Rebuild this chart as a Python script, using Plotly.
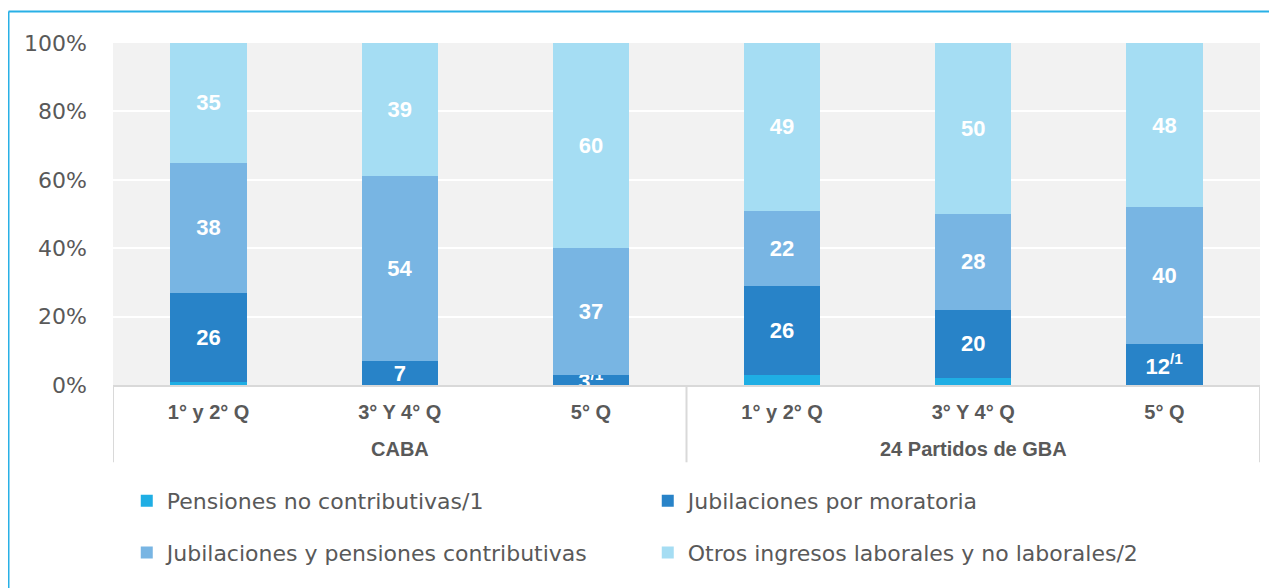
import plotly.graph_objects as go

regions = ["CABA", "24 Partidos de GBA"]
quintiles = ["1° y 2° Q", "3° Y 4° Q", "5° Q", "1° y 2° Q", "3° Y 4° Q", "5° Q"]
positions = [0, 1, 2, 3, 4, 5]
region_centers = [1, 4]
region_dividers = [-0.5, 2.5, 5.5]

pensiones_nc = [1, 0, 0, 3, 2, 0]
moratoria = [26, 7, 3, 26, 20, 12]
contributivas = [38, 54, 37, 22, 28, 40]
otros = [35, 39, 60, 49, 50, 48]

moratoria_labels = ["26", "7", "3<sup>/1</sup>", "26", "20", "12<sup>/1</sup>"]
contributivas_labels = [str(v) for v in contributivas]
otros_labels = [str(v) for v in otros]

y_ticks = [0, 20, 40, 60, 80, 100]
y_ticktext = [f"{v}%" for v in y_ticks]

series_names = [
    "Pensiones no contributivas/1",
    "Jubilaciones por moratoria",
    "Jubilaciones y pensiones contributivas",
    "Otros ingresos laborales y no laborales/2",
]
colors = ["#1FAEE4", "#2883C8", "#78B5E3", "#A5DDF3"]

fig = go.Figure()

bar_font = dict(family="Liberation Sans, Arial", size=22, color="white")
txt = dict(textposition="inside", insidetextanchor="middle", constraintext="none",
           textangle=0, textfont=bar_font, texttemplate="<b>%{text}</b>")

fig.add_trace(go.Bar(x=positions, y=pensiones_nc, name=series_names[0], marker_color=colors[0],
                     marker_line_width=0, legend="legend"))
fig.add_trace(go.Bar(x=positions, y=moratoria, name=series_names[1], marker_color=colors[1],
                     marker_line_width=0, text=moratoria_labels, legend="legend", **txt))
fig.add_trace(go.Bar(x=positions, y=contributivas, name=series_names[2], marker_color=colors[2],
                     marker_line_width=0, text=contributivas_labels, legend="legend2", **txt))
fig.add_trace(go.Bar(x=positions, y=otros, name=series_names[3], marker_color=colors[3],
                     marker_line_width=0, text=otros_labels, legend="legend2", **txt))

legend_common = dict(
    orientation="h", xanchor="left", yanchor="middle",
    font=dict(family="DejaVu Sans", size=22, color="#595959"),
    entrywidth=476, entrywidthmode="pixels", itemwidth=30,
    bgcolor="rgba(0,0,0,0)", traceorder="normal",
)

grey = "#D9D9D9"
shapes = [
    dict(type="line", xref="paper", yref="paper", x0=-0.0911, x1=1.03,
         y0=1.0921, y1=1.0921, line=dict(color="#29B0E6", width=2)),
    dict(type="line", xref="paper", yref="paper", x0=-0.0911, x1=-0.0911,
         y0=1.0921, y1=-0.62, line=dict(color="#29B0E6", width=2)),
]
for d in region_dividers:
    shapes.append(dict(type="line", xref="x", yref="paper", x0=d, x1=d,
                       y0=0, y1=-0.226, line=dict(color=grey, width=2)))

annotations = [
    dict(x=c, y=-0.187, xref="x", yref="paper", text=f"<b>{r}</b>", showarrow=False,
         font=dict(family="Liberation Sans, Arial", size=20, color="#595959"),
         yanchor="middle")
    for c, r in zip(region_centers, regions)
]

fig.update_layout(
    width=1269, height=580,
    margin=dict(l=105, r=17, t=35, b=203),
    paper_bgcolor="white",
    plot_bgcolor="#F2F2F2",
    barmode="stack",
    bargap=0.6,
    uniformtext=dict(minsize=22, mode="show"),
    showlegend=True,
    legend=dict(x=0.012, y=-0.339, **legend_common),
    legend2=dict(x=0.012, y=-0.49, **legend_common),
    yaxis=dict(
        range=[0, 100], tickvals=y_ticks, ticktext=y_ticktext,
        showgrid=True, gridcolor="white", gridwidth=2, zeroline=False,
        tickfont=dict(family="DejaVu Sans", size=22, color="#595959"),
        ticklabelstandoff=25, fixedrange=True,
    ),
    xaxis=dict(
        range=[-0.5, 5.5], tickvals=positions, ticktext=[f"<b>{q}</b>" for q in quintiles],
        tickfont=dict(family="Liberation Sans, Arial", size=20, color="#595959"),
        showline=True, linecolor=grey, linewidth=2, showgrid=False, zeroline=False,
        ticks="", ticklabelstandoff=8, fixedrange=True,
    ),
    shapes=shapes,
    annotations=annotations,
)

fig.write_html("out.html")
